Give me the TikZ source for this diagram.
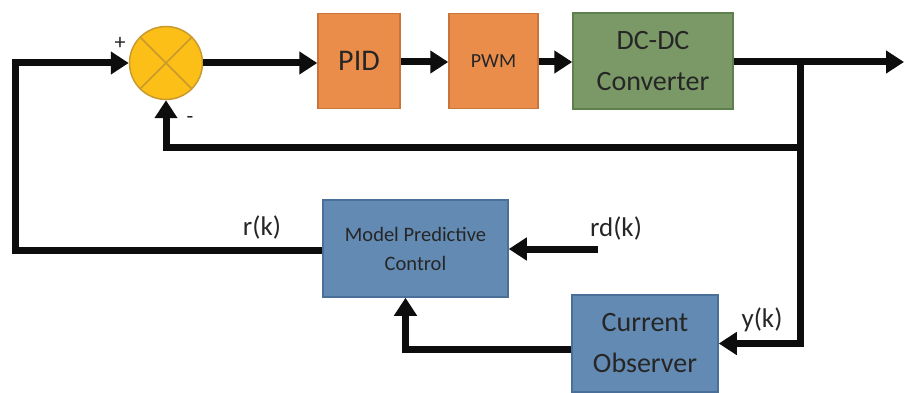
\documentclass[tikz,border=0pt]{standalone}
\usepackage{fontspec}
\setmainfont{Carlito}
\usetikzlibrary{arrows.meta,calc}
\definecolor{sumfill}{HTML}{FCBF17}
\definecolor{sumline}{HTML}{C99A2E}
\definecolor{orfill}{HTML}{EB8D4A}
\definecolor{orline}{HTML}{C8743A}
\definecolor{grfill}{HTML}{7A9966}
\definecolor{grline}{HTML}{5F7F4C}
\definecolor{blfill}{HTML}{628AB3}
\definecolor{blline}{HTML}{4A6F99}
\definecolor{txt}{HTML}{262626}
\begin{document}
\begin{tikzpicture}[x=1pt,y=-1pt,
  blk/.style={rectangle, line width=1.5pt, inner sep=0pt, align=center, text=txt},
  orbox/.style={blk, draw=orline, fill=orfill},
  grbox/.style={blk, draw=grline, fill=grfill},
  blbox/.style={blk, draw=blline, fill=blfill},
  huge/.style={font=\fontsize{30}{40}\selectfont},
  big/.style={font=\fontsize{28}{41}\selectfont},
  pwmf/.style={font=\fontsize{20}{28}\selectfont},
  small/.style={font=\fontsize{20.5}{29}\selectfont},
  wire/.style={line width=7pt, black!95},
  arr/.style={wire, -{Triangle[length=18pt,width=22pt]}},
  lbl/.style={text=txt, inner sep=0pt, font=\fontsize{27}{30}\selectfont},
  sign/.style={text=txt, inner sep=0pt, font=\fontsize{22}{24}\selectfont}]
\useasboundingbox (0,0) rectangle (904,393);

\node[circle, draw=sumline, fill=sumfill, line width=1.5pt, minimum size=73pt, inner sep=0pt] (sum) at (166,63) {};
\draw[sumline, line width=1.5pt] (sum.45) -- (sum.225) (sum.135) -- (sum.315);

\node[orbox, huge, minimum width=82pt, minimum height=95pt] (pid) at (359,61) {PID};
\node[orbox, pwmf, minimum width=89pt, minimum height=95pt] (pwm) at (493.5,61) {PWM};
\node[grbox, big, minimum width=160pt, minimum height=96pt] (dc) at (653,61) {DC-DC\\Converter};
\node[blbox, small, minimum width=185pt, minimum height=97pt] (mpc) at (415.5,248.5) {Model Predictive\\Control};
\node[blbox, big, minimum width=146pt, minimum height=97pt] (co) at (645,343.5) {Current\\Observer};

\coordinate (out) at (904,62);
\coordinate (br) at (800,62);
\coordinate (fb) at (800,147);
\coordinate (lc) at (15,250);
\coordinate (rd) at (598,249);

\draw[arr] (sum.east) -- (sum.east -| pid.west);
\draw[arr] (pid.east |- 0,62) -- (pwm.west |- 0,62);
\draw[arr] (pwm.east |- 0,62) -- (dc.west |- 0,62);
\draw[arr] (dc.east |- 0,62) -- (out);
\draw[wire] (br) -- (fb);
\draw[arr] (fb) -| (sum.south);
\draw[arr] (fb) |- (co.east);
\draw[arr] (mpc.west |- lc) -- (lc) |- (sum.west);
\draw[arr] (rd) -- (rd -| mpc.east);
\draw[arr] ($(co.west)+(0,6)$) -| ($(mpc.south)+(-10,0)$);

\node[lbl] (rk) at (262,227) {r(k)};
\node[lbl] (rdk) at (616,228) {rd(k)};
\node[lbl] (yk) at (762,320) {y(k)};
\node[sign] (plus) at (120,43) {+};
\node[sign] (minus) at (190,120) {-};
\end{tikzpicture}
\end{document}
